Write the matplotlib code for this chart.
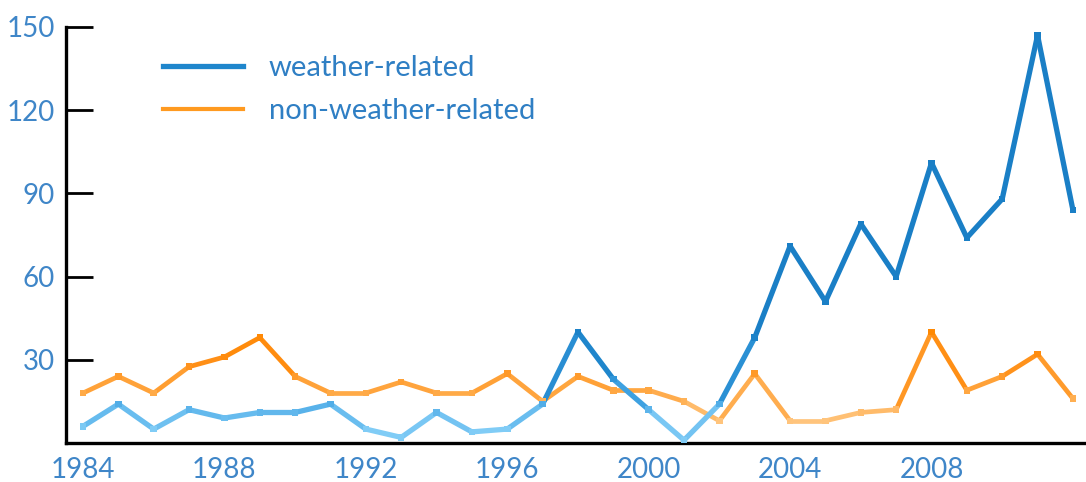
import numpy as np
import matplotlib
matplotlib.use("Agg")
import matplotlib.pyplot as plt
from matplotlib.collections import LineCollection
from matplotlib.colors import LinearSegmentedColormap, Normalize
from matplotlib.lines import Line2D

years = list(range(1984, 2013))
weather = [6, 14, 5, 12, 9, 11, 11, 14, 5, 2, 11, 4, 5, 14, 40, 23, 12, 1,
           14, 38, 71, 51, 79, 60, 101, 74, 88, 147, 84]
non_weather = [18, 24, 18, 27.5, 31, 38, 24, 18, 18, 22, 18, 18, 25, 15, 24, 19,
               19, 15, 8, 25, 8, 8, 11, 12, 40, 19, 24, 32, 16]
xtick_labels = ["1984", "1988", "1992", "1996", "2000", "2004", "2008"]
ytick_vals = [30, 60, 90, 120, 150]
series_names = ["weather-related", "non-weather-related"]

plt.rcParams['font.family'] = ['Lato', 'DejaVu Sans']

fig = plt.figure(figsize=(10.86, 4.82), dpi=100)
ax = fig.add_axes([0.0608, 0.081, 0.9392, 0.863])

blue_cmap = LinearSegmentedColormap.from_list("b", ["#80ccf6", "#3a9ee0", "#1f86cc", "#1a7fc6"])
orange_cmap = LinearSegmentedColormap.from_list("o", ["#ffc47c", "#ffa640", "#ff8c10", "#ff8800"])


def draw(vals, cmap, vmin, vmax, lw):
    x = np.array(years, dtype=float)
    y = np.array(vals, dtype=float)
    pts = np.column_stack([x, y])
    segs = np.stack([pts[:-1], pts[1:]], axis=1)
    mids = (y[:-1] + y[1:]) / 2
    lc = LineCollection(segs, cmap=cmap, norm=Normalize(vmin, vmax),
                        linewidths=lw, capstyle='round', joinstyle='round', zorder=3)
    lc.set_array(mids)
    ax.add_collection(lc)
    ax.scatter(x, y, c=y, cmap=cmap, norm=Normalize(vmin, vmax), marker='s',
               s=22, linewidths=0, zorder=4)


draw(non_weather, orange_cmap, 8, 42, 3.4)
draw(weather, blue_cmap, 5, 45, 3.8)

ax.set_xlim(1983.52, 2012.37)
ax.set_ylim(0, 150)

for s in ['top', 'right']:
    ax.spines[s].set_visible(False)
ax.spines['left'].set_linewidth(2.4)
ax.spines['bottom'].set_linewidth(2.4)

ax.set_yticks(ytick_vals)
ax.set_yticklabels([str(v) for v in ytick_vals])
ax.tick_params(axis='y', direction='in', length=19.5, width=2.0, pad=8,
               labelsize=20, labelcolor='#3f86c8', colors='black')
ax.tick_params(axis='y', labelcolor='#3f86c8')
ax.set_xticks([int(t) for t in xtick_labels])
ax.set_xticklabels(xtick_labels)
ax.tick_params(axis='x', length=0, pad=10, labelsize=20, labelcolor='#3f86c8')

handles = [Line2D([0], [0], color="#1f86cc", lw=3.8),
           Line2D([0], [0], color="#ff9a20", lw=3.0)]
leg = ax.legend(handles, series_names, loc='upper left', bbox_to_anchor=(0.0696, 0.996),
                frameon=False, fontsize=21, handlelength=2.75, handletextpad=0.86,
                labelspacing=0.6, labelcolor='#2f7fc4')

fig.savefig("out.png", dpi=100)
